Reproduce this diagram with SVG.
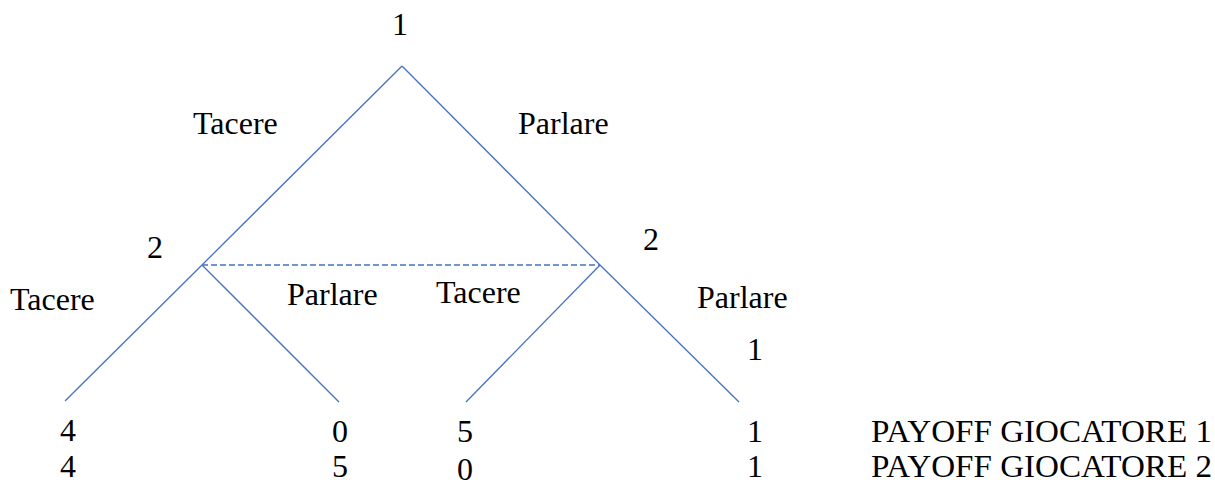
<svg xmlns="http://www.w3.org/2000/svg" width="1215" height="482" viewBox="0 0 1215 482">
<style>
.t{font-family:"Liberation Serif","Times New Roman",serif;font-size:32px;fill:#000}
.e{stroke:#4472C4;stroke-width:1.3;fill:none}
.d{stroke:#4472C4;stroke-width:1.3;fill:none;stroke-dasharray:6 3}
</style>
<rect width="1215" height="482" fill="#fff"/>
<g id="connectors">
<line class="e" x1="402" y1="66" x2="202" y2="265"/>
<line class="e" x1="402" y1="66" x2="600" y2="265"/>
<line class="e" x1="202" y1="265" x2="65" y2="401"/>
<line class="e" x1="202" y1="265" x2="339" y2="402"/>
<line class="e" x1="600" y1="265" x2="466" y2="402"/>
<line class="e" x1="600" y1="265" x2="739" y2="402"/>
<line class="d" x1="202" y1="265" x2="600" y2="265"/>
</g>
<g id="root"><text class="t" x="400" y="35" text-anchor="middle">1</text></g>
<g id="node-left"><text class="t" x="155" y="258" text-anchor="middle">2</text></g>
<g id="node-right"><text class="t" x="651" y="250" text-anchor="middle">2</text></g>
<g id="labels">
<text class="t" x="193" y="134">Tacere</text>
<text class="t" x="518" y="134">Parlare</text>
<text class="t" x="10" y="310">Tacere</text>
<text class="t" x="287" y="305">Parlare</text>
<text class="t" x="436" y="303">Tacere</text>
<text class="t" x="697" y="308">Parlare</text>
<text class="t" x="755" y="360" text-anchor="middle">1</text>
</g>
<g id="payoffs">
<text class="t" x="68" y="441" text-anchor="middle">4</text>
<text class="t" x="68" y="477" text-anchor="middle">4</text>
<text class="t" x="340" y="442" text-anchor="middle">0</text>
<text class="t" x="340" y="477" text-anchor="middle">5</text>
<text class="t" x="465" y="442" text-anchor="middle">5</text>
<text class="t" x="465" y="480" text-anchor="middle">0</text>
<text class="t" x="755" y="442" text-anchor="middle">1</text>
<text class="t" x="755" y="477" text-anchor="middle">1</text>
<text class="t" x="871" y="442" textLength="341" lengthAdjust="spacingAndGlyphs">PAYOFF GIOCATORE 1</text>
<text class="t" x="871" y="477" textLength="341" lengthAdjust="spacingAndGlyphs">PAYOFF GIOCATORE 2</text>
</g>
</svg>
